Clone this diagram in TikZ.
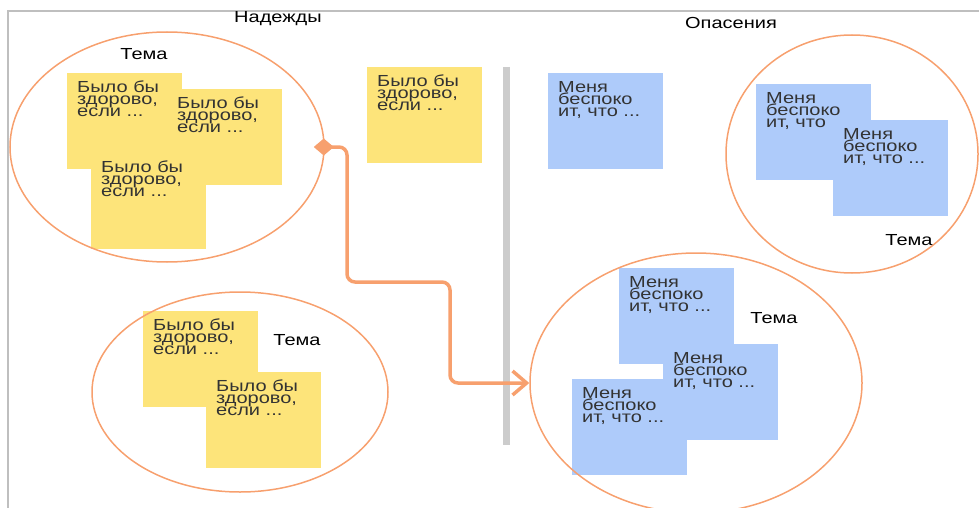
\documentclass[tikz,border=0pt]{standalone}
\usepackage{fontspec}
\setmainfont[FakeStretch=1.25]{Liberation Sans}
\usetikzlibrary{arrows.meta,shapes.geometric}
\definecolor{noteyellow}{RGB}{253,228,122}
\definecolor{noteblue}{RGB}{174,203,250}
\definecolor{grporange}{RGB}{247,160,110}
\definecolor{notegray}{RGB}{51,51,51}
\tikzset{
  notetext/.style = {anchor=north west, align=left, inner sep=0pt,
    xshift=10pt, yshift=-8pt, text=notegray,
    font=\fontsize{16}{12}\selectfont},
  note/.style = {rectangle, anchor=north west, inner sep=0pt,
    minimum width=115pt, minimum height=96pt,
    label={[notetext]north west:{#1}}},
  ynote/.style = {note={#1}, fill=noteyellow},% sticker, hope
  bnote/.style = {note={#1}, fill=noteblue},% sticker, fear
  grp/.style = {ellipse, draw=grporange, line width=1.5pt, inner sep=0pt},% theme
  grplabel/.style = {font=\fontsize{16}{16}\selectfont},
  coltitle/.style = {font=\fontsize{16}{16}\selectfont}
}
\begin{document}
\begin{tikzpicture}[x=1pt, y=-1pt, >={Straight Barb[length=14pt,width=24pt]}]
\useasboundingbox (0,0) rectangle (979,508);
% board
\draw[gray!50, line width=1.2pt] (8,508) -- (8,11) -- (979,11);
\node[coltitle] (hopes) at (278,19) {Надежды};
\node[coltitle] (fears) at (731,23) {Опасения};
\draw[gray!40, line width=7pt] (506,67) -- (506,445);
% hopes
\node[ynote={Было бы\\здорово,\\если ...}] (y1) at (67,73) {};
\node[ynote={Было бы\\здорово,\\если ...}] (y2) at (167,89) {};
\node[ynote={Было бы\\здорово,\\если ...}] (y3) at (91,153) {};
\node[ynote={Было бы\\здорово,\\если ...}] (y4) at (367,67) {};
\node[ynote={Было бы\\здорово,\\если ...}] (y5) at (143,311) {};
\node[ynote={Было бы\\здорово,\\если ...}] (y6) at (206,372) {};
% fears
\node[bnote={Меня\\беспоко\\ит, что ...}] (b1) at (548,73) {};
\node[bnote={Меня\\беспоко\\ит, что ...}] (b2) at (756,84) {};
\node[bnote={Меня\\беспоко\\ит, что ...}] (b3) at (833,120) {};
\node[bnote={Меня\\беспоко\\ит, что ...}] (b4) at (619,268) {};
\node[bnote={Меня\\беспоко\\ит, что ...}] (b6) at (572,379) {};
\node[bnote={Меня\\беспоко\\ит, что ...}] (b5) at (663,344) {};
% themes
\node[grp, minimum width=314pt, minimum height=230pt] (tl) at (167,147) {};
\node[grp, minimum width=296pt, minimum height=200pt] (bl) at (240,392) {};
\node[grp, minimum width=252pt, minimum height=238pt] (tr) at (852,154) {};
\node[grp, minimum width=332pt, minimum height=260pt] (br) at (696,383) {};
\node[grplabel] (tlt) at (144,54) {Тема};
\node[grplabel] (blt) at (297,340) {Тема};
\node[grplabel] (trt) at (909,240) {Тема};
\node[grplabel] (brt) at (774,318) {Тема};
% move
\coordinate (w1) at (347,282);
\coordinate (w2) at (450,383);
\draw[grporange, line width=3.5pt, rounded corners=8pt,
  {Diamond[length=20pt,width=17pt]}->] ([xshift=-11pt]tl.east) -| (w1) -| (w2) -- (br.west);
\end{tikzpicture}
\end{document}
